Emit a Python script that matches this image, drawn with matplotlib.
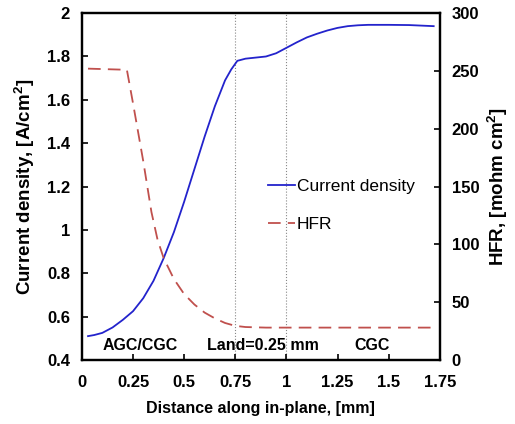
import matplotlib
matplotlib.use('Agg')
import matplotlib.pyplot as plt

plt.rcParams.update({
    'font.family': ['Liberation Sans', 'DejaVu Sans'],
    'font.size': 9,
    'font.weight': 'bold',
    'axes.linewidth': 1.6,
    'mathtext.default': 'regular',
})

# ── data ────────────────────────────────────────────────────────────────
dist_cd = [0.03, 0.06, 0.1, 0.15, 0.2, 0.25, 0.3, 0.35, 0.4, 0.45, 0.5,
           0.55, 0.6, 0.65, 0.7, 0.73, 0.76, 0.8, 0.85, 0.9, 0.95, 1.0,
           1.05, 1.1, 1.15, 1.2, 1.25, 1.3, 1.35, 1.4, 1.5, 1.6, 1.72]
current = [0.51, 0.515, 0.525, 0.55, 0.585, 0.625, 0.685, 0.765, 0.87, 0.99, 1.13,
           1.28, 1.43, 1.57, 1.69, 1.74, 1.78, 1.79, 1.795, 1.80, 1.815, 1.84,
           1.865, 1.888, 1.905, 1.92, 1.932, 1.94, 1.944, 1.946, 1.946, 1.945, 1.94]

dist_hfr = [0.03, 0.22, 0.25, 0.3, 0.34, 0.37, 0.4, 0.45, 0.5, 0.55, 0.6,
            0.65, 0.7, 0.75, 0.8, 0.9, 1.0, 1.25, 1.5, 1.72]
hfr = [252, 251, 222, 172, 128, 104, 88, 70, 57, 48, 41,
       36, 32, 29.5, 28.5, 28, 28, 28, 28, 28]

xticks = [0, 0.25, 0.5, 0.75, 1, 1.25, 1.5, 1.75]
xtick_labels = ['0', '0.25', '0.5', '0.75', '1', '1.25', '1.5', '1.75']
yticks = [0.4, 0.6, 0.8, 1.0, 1.2, 1.4, 1.6, 1.8, 2.0]
ytick_labels = ['0.4', '0.6', '0.8', '1', '1.2', '1.4', '1.6', '1.8', '2']
y2ticks = [0, 50, 100, 150, 200, 250, 300]

land_edges = [0.75, 1.0]
regions = [(0.285, 'AGC/CGC'), (0.885, 'Land=0.25 mm'), (1.42, 'CGC')]

C_CD = '#2323CC'
C_HFR = '#C0504D'

fig = plt.figure(figsize=(5.15, 4.24), dpi=100)
ax = fig.add_axes([0.159, 0.151, 0.695, 0.818])
ax2 = ax.twinx()

for xv in land_edges:
    ax.axvline(xv, color='#888888', lw=0.8, ls=':', zorder=1)

l1, = ax.plot(dist_cd, current, color=C_CD, lw=1.3, label='Current density', zorder=3)
l2, = ax2.plot(dist_hfr, hfr, color=C_HFR, lw=1.3, ls=(0, (7, 4)), label='HFR', zorder=3)

for xv, txt in regions:
    ax.text(xv, 0.465, txt, ha='center', va='center', fontsize=11.5, fontweight='bold')

ax.set_xlim(0, 1.75)
ax.set_ylim(0.4, 2.0)
ax2.set_ylim(0, 300)
ax.set_xticks(xticks)
ax.set_xticklabels(xtick_labels)
ax.set_yticks(yticks)
ax.set_yticklabels(ytick_labels)
ax2.set_yticks(y2ticks)

for a in (ax, ax2):
    a.tick_params(direction='in', length=4, width=1.2, labelsize=12, pad=8.5)
    a.tick_params(axis='x', pad=11)
    for lab in a.get_xticklabels() + a.get_yticklabels():
        lab.set_fontweight('bold')

ax.set_xlabel('Distance along in-plane, [mm]', fontsize=11.5, fontweight='bold', labelpad=8)
ax.set_ylabel('Current density, [A/cm$^2$]', fontsize=13.5, fontweight='bold', labelpad=7)
ax2.set_ylabel('HFR, [mohm cm$^2$]', fontsize=13.5, fontweight='bold', labelpad=5)

leg = ax.legend([l1, l2], ['Current density', 'HFR'], loc='center left',
                bbox_to_anchor=(0.475, 0.445), frameon=False, fontsize=12.5,
                handlelength=1.6, handletextpad=0.1, labelspacing=1.3)
for t in leg.get_texts():
    t.set_fontweight('normal')

fig.savefig('out.png', dpi=100)
